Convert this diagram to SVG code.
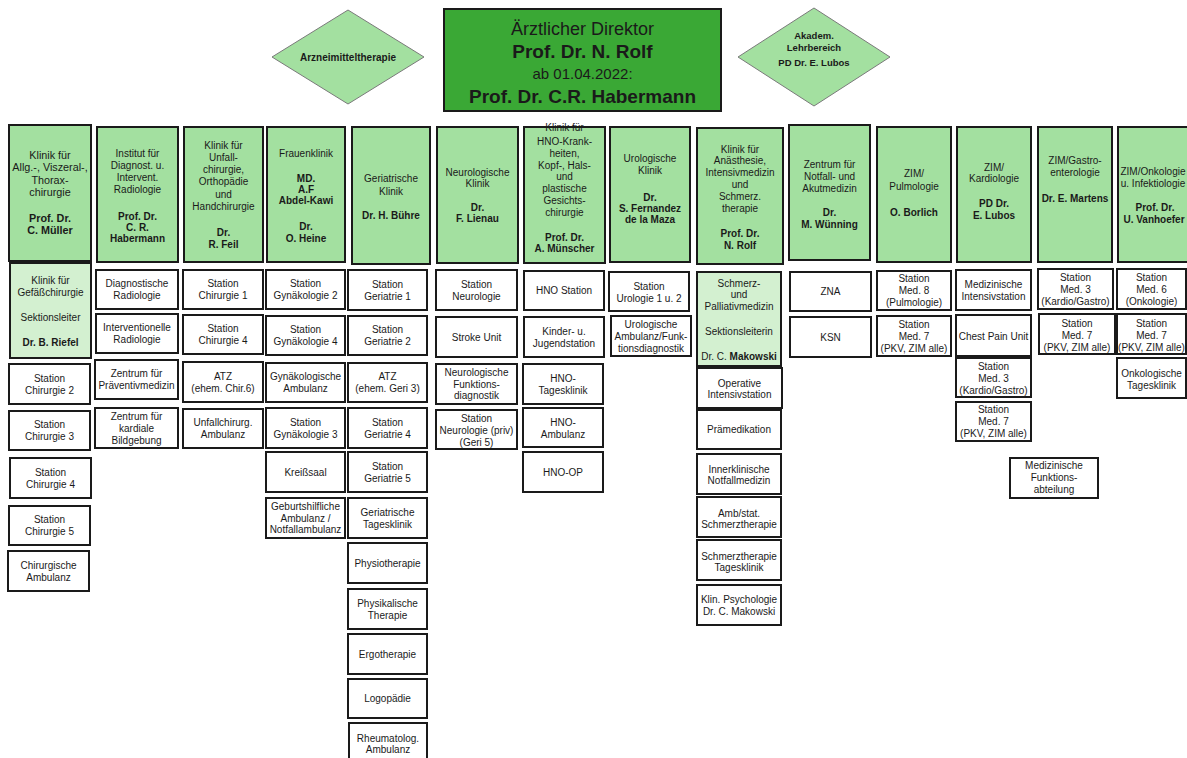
<svg xmlns="http://www.w3.org/2000/svg" width="1187" height="758" viewBox="0 0 1187 758">
<style>
text{font-family:"Liberation Sans",Arial,sans-serif;font-size:10px;fill:#1a1a1a;text-anchor:middle}
.bd{font-weight:bold}
.lg{font-size:10.8px}
.h{fill:#a3e0a0;stroke:#1a1a1a;stroke-width:2}
.s{fill:#d3f0d0;stroke:#1a1a1a;stroke-width:2}
.b{fill:#fff;stroke:#1a1a1a;stroke-width:2}
.d{fill:#a3e0a0;stroke:#7a7a7a;stroke-width:1}
.dir{fill:#3aa835;stroke:#1a1a1a;stroke-width:2}
</style>
<rect width="1187" height="758" fill="#fff"/>
<g id="connectors"/>
<g id="direktor"><rect class="dir" x="444" y="9" width="277" height="102"/>
<text x="582.5" y="35" style="font-size:18px">Ärztlicher Direktor</text>
<text x="582.5" y="58" class="bd" style="font-size:19px">Prof. Dr. N. Rolf</text>
<text x="582.5" y="79" style="font-size:15px">ab 01.04.2022:</text>
<text x="582.5" y="103" class="bd" style="font-size:19px">Prof. Dr. C.R. Habermann</text></g>
<g id="arznei"><polygon class="d" points="272,57 348,10 424,57 348,104"/><text x="348" y="60.5" class="bd">Arzneimitteltherapie</text></g>
<g id="akadem"><polygon class="d" points="738,57 814,8 890,57 814,106"/>
<text x="814" y="39" class="bd" style="font-size:9.5px">Akadem.</text><text x="814" y="50.5" class="bd" style="font-size:9.5px">Lehrbereich</text><text x="814" y="66" class="bd" style="font-size:9.5px">PD Dr. E. Lubos</text></g>

<g id="h1"><rect class="h" x="9" y="125" width="82" height="136"/>
<text x="50" y="158.5" class="lg">Klinik für</text><text x="50" y="171" class="lg">Allg.-, Viszeral-,</text><text x="50" y="183.5" class="lg">Thorax-</text><text x="50" y="196" class="lg">chirurgie</text><text x="50" y="222" class="bd lg">Prof. Dr.</text><text x="50" y="234" class="bd lg">C. Müller</text></g>
<g id="h2"><rect class="h" x="97" y="127" width="81" height="135"/>
<text x="137.5" y="156.5">Institut für</text><text x="137.5" y="168.5">Diagnost. u.</text><text x="137.5" y="180.5">Intervent.</text><text x="137.5" y="192.5">Radiologie</text><text x="137.5" y="219.5" class="bd">Prof. Dr.</text><text x="137.5" y="230.5" class="bd">C. R.</text><text x="137.5" y="241.5" class="bd">Habermann</text></g>
<g id="h3"><rect class="h" x="184" y="127" width="79" height="135"/>
<text x="223.5" y="148.5">Klinik für</text><text x="223.5" y="160.5">Unfall-</text><text x="223.5" y="172.5">chirurgie,</text><text x="223.5" y="185">Orthopädie</text><text x="223.5" y="197.5">und</text><text x="223.5" y="210">Handchirurgie</text><text x="223.5" y="235.5" class="bd">Dr.</text><text x="223.5" y="247.5" class="bd">R. Feil</text></g>
<g id="h4"><rect class="h" x="267" y="127" width="78" height="135"/>
<text x="306" y="156.5">Frauenklinik</text><text x="306" y="181.5" class="bd">MD.</text><text x="306" y="192.5" class="bd">A.F</text><text x="306" y="203.5" class="bd">Abdel-Kawi</text><text x="306" y="230" class="bd">Dr.</text><text x="306" y="241.5" class="bd">O. Heine</text></g>
<g id="h5"><rect class="h" x="352" y="127" width="78" height="137"/>
<text x="391" y="181.5">Geriatrische</text><text x="391" y="194.5">Klinik</text><text x="391" y="218.5" class="bd">Dr. H. Bühre</text></g>
<g id="h6"><rect class="h" x="437" y="127" width="81" height="136"/>
<text x="477.5" y="175.5">Neurologische</text><text x="477.5" y="186.5">Klinik</text><text x="477.5" y="210.5" class="bd">Dr.</text><text x="477.5" y="221.5" class="bd">F. Lienau</text></g>
<g id="h7"><rect class="h" x="524" y="127" width="81" height="136"/>
<text x="564.5" y="131">Klinik für</text><text x="564.5" y="144.5">HNO-Krank-</text><text x="564.5" y="156.5">heiten,</text><text x="564.5" y="168.5">Kopf-, Hals-</text><text x="564.5" y="180">und</text><text x="564.5" y="191.5">plastische</text><text x="564.5" y="203.5">Gesichts-</text><text x="564.5" y="215.5">chirurgie</text><text x="564.5" y="240.5" class="bd">Prof. Dr.</text><text x="564.5" y="252" class="bd">A. Münscher</text></g>
<g id="h8"><rect class="h" x="610" y="127" width="80" height="135"/>
<text x="650" y="161.5">Urologische</text><text x="650" y="173.5">Klinik</text><text x="650" y="200.5" class="bd">Dr.</text><text x="650" y="211.5" class="bd">S. Fernandez</text><text x="650" y="222.5" class="bd">de la Maza</text></g>
<g id="h9"><rect class="h" x="697" y="128" width="86" height="136"/>
<text x="740" y="153">Klinik für</text><text x="740" y="163.5">Anästhesie,</text><text x="740" y="175.5">Intensivmedizin</text><text x="740" y="188">und</text><text x="740" y="200">Schmerz.</text><text x="740" y="211.5">therapie</text><text x="740" y="236.5" class="bd">Prof. Dr.</text><text x="740" y="248.5" class="bd">N. Rolf</text></g>
<g id="h10"><rect class="h" x="789" y="125" width="81" height="135"/>
<text x="829.5" y="168">Zentrum für</text><text x="829.5" y="180">Notfall- und</text><text x="829.5" y="191.5">Akutmedizin</text><text x="829.5" y="215.5" class="bd">Dr.</text><text x="829.5" y="228" class="bd">M. Wünning</text></g>
<g id="h11"><rect class="h" x="877" y="127" width="74" height="135"/>
<text x="914" y="177">ZIM/</text><text x="914" y="189.5">Pulmologie</text><text x="914" y="215.5" class="bd">O. Borlich</text></g>
<g id="h12"><rect class="h" x="957" y="127" width="74" height="135"/>
<text x="994" y="170.5">ZIM/</text><text x="994" y="181.5">Kardiologie</text><text x="994" y="206.5" class="bd">PD Dr.</text><text x="994" y="218.5" class="bd">E. Lubos</text></g>
<g id="h13"><rect class="h" x="1038" y="127" width="74" height="135"/>
<text x="1075" y="163.5">ZIM/Gastro-</text><text x="1075" y="175.5">enterologie</text><text x="1075" y="201.5" class="bd">Dr. E. Martens</text></g>
<g id="h14"><rect class="h" x="1118" y="127" width="74" height="135"/>
<text x="1153" y="174.5">ZIM/Onkologie</text><text x="1153" y="186.5">u. Infektiologie</text><text x="1155" y="210.5" class="bd">Prof. Dr.</text><text x="1154" y="222.5" class="bd">U. Vanhoefer</text></g>

<g id="gefaess"><rect class="s" x="10" y="263" width="81" height="95"/>
<text x="50.5" y="283.5">Klinik für</text><text x="50.5" y="295.5">Gefäßchirurgie</text><text x="50.5" y="320.5">Sektionsleiter</text><text x="50.5" y="345.5" class="bd">Dr. B. Riefel</text></g>
<g id="chir2"><rect class="b" x="9" y="364" width="81" height="40"/><text x="49.5" y="382">Station</text><text x="49.5" y="394">Chirurgie 2</text></g>
<g id="chir3"><rect class="b" x="9" y="411" width="81" height="39"/><text x="49.5" y="428">Station</text><text x="49.5" y="440">Chirurgie 3</text></g>
<g id="chir4"><rect class="b" x="10" y="458" width="81" height="40"/><text x="50.5" y="476">Station</text><text x="50.5" y="488">Chirurgie 4</text></g>
<g id="chir5"><rect class="b" x="9" y="506" width="81" height="39"/><text x="49.5" y="523">Station</text><text x="49.5" y="535">Chirurgie 5</text></g>
<g id="chiramb"><rect class="b" x="8" y="551" width="81" height="40"/><text x="48.5" y="569">Chirurgische</text><text x="48.5" y="581">Ambulanz</text></g>

<g id="diagrad"><rect class="b" x="96" y="270" width="82" height="39"/><text x="137" y="287">Diagnostische</text><text x="137" y="299">Radiologie</text></g>
<g id="intrad"><rect class="b" x="96" y="314" width="82" height="39"/><text x="137" y="331">Interventionelle</text><text x="137" y="343">Radiologie</text></g>
<g id="praev"><rect class="b" x="95" y="360" width="83" height="39"/><text x="136.5" y="377">Zentrum für</text><text x="136.5" y="389">Präventivmedizin</text></g>
<g id="kardbild"><rect class="b" x="95" y="408" width="83" height="40"/><text x="136.5" y="419.5">Zentrum für</text><text x="136.5" y="431.5">kardiale</text><text x="136.5" y="443.5">Bildgebung</text></g>

<g id="chir1"><rect class="b" x="183" y="270" width="80" height="39"/><text x="223" y="287">Station</text><text x="223" y="299">Chirurgie 1</text></g>
<g id="chir4u"><rect class="b" x="183" y="315" width="80" height="39"/><text x="223" y="332">Station</text><text x="223" y="344">Chirurgie 4</text></g>
<g id="atzchir"><rect class="b" x="183" y="362" width="80" height="40"/><text x="223" y="380">ATZ</text><text x="223" y="392">(ehem. Chir.6)</text></g>
<g id="unfamb"><rect class="b" x="183" y="409" width="80" height="39"/><text x="223" y="426">Unfallchirurg.</text><text x="223" y="438">Ambulanz</text></g>

<g id="gyn2"><rect class="b" x="266" y="270" width="79" height="39"/><text x="305.5" y="287">Station</text><text x="305.5" y="299">Gynäkologie 2</text></g>
<g id="gyn4"><rect class="b" x="266" y="316" width="79" height="39"/><text x="305.5" y="333">Station</text><text x="305.5" y="345">Gynäkologie 4</text></g>
<g id="gynamb"><rect class="b" x="266" y="363" width="79" height="39"/><text x="305.5" y="380">Gynäkologische</text><text x="305.5" y="392">Ambulanz</text></g>
<g id="gyn3"><rect class="b" x="266" y="408" width="79" height="40"/><text x="305.5" y="426">Station</text><text x="305.5" y="438">Gynäkologie 3</text></g>
<g id="kreiss"><rect class="b" x="266" y="452" width="79" height="40"/><text x="305.5" y="475.5">Kreißsaal</text></g>
<g id="geburt"><rect class="b" x="266" y="498" width="79" height="40"/><text x="305.5" y="510">Geburtshilfliche</text><text x="305.5" y="521.5">Ambulanz /</text><text x="305.5" y="533">Notfallambulanz</text></g>

<g id="ger1"><rect class="b" x="348" y="270" width="79" height="40"/><text x="387.5" y="288">Station</text><text x="387.5" y="300">Geriatrie 1</text></g>
<g id="ger2"><rect class="b" x="348" y="316" width="79" height="39"/><text x="387.5" y="333">Station</text><text x="387.5" y="345">Geriatrie 2</text></g>
<g id="atzgeri"><rect class="b" x="348" y="363" width="79" height="39"/><text x="387.5" y="380">ATZ</text><text x="387.5" y="392">(ehem. Geri 3)</text></g>
<g id="ger4"><rect class="b" x="348" y="408" width="79" height="40"/><text x="387.5" y="426">Station</text><text x="387.5" y="438">Geriatrie 4</text></g>
<g id="ger5"><rect class="b" x="348" y="452" width="79" height="40"/><text x="387.5" y="470">Station</text><text x="387.5" y="482">Geriatrie 5</text></g>
<g id="gertag"><rect class="b" x="348" y="498" width="79" height="40"/><text x="387.5" y="516">Geriatrische</text><text x="387.5" y="528">Tagesklinik</text></g>
<g id="physio"><rect class="b" x="348" y="543" width="79" height="40"/><text x="387.5" y="566.5">Physiotherapie</text></g>
<g id="physik"><rect class="b" x="348" y="589" width="79" height="40"/><text x="387.5" y="607">Physikalische</text><text x="387.5" y="619">Therapie</text></g>
<g id="ergo"><rect class="b" x="348" y="634" width="79" height="40"/><text x="387.5" y="657.5">Ergotherapie</text></g>
<g id="logo"><rect class="b" x="348" y="679" width="79" height="39"/><text x="387.5" y="702">Logopädie</text></g>
<g id="rheuma"><rect class="b" x="349" y="723" width="78" height="42"/><text x="388" y="741.5">Rheumatolog.</text><text x="388" y="753">Ambulanz</text></g>

<g id="neurost"><rect class="b" x="436" y="270" width="81" height="40"/><text x="476.5" y="288">Station</text><text x="476.5" y="300">Neurologie</text></g>
<g id="stroke"><rect class="b" x="436" y="317" width="81" height="40"/><text x="476.5" y="340.5">Stroke Unit</text></g>
<g id="neurofunk"><rect class="b" x="436" y="364" width="81" height="40"/><text x="476.5" y="376">Neurologische</text><text x="476.5" y="387.5">Funktions-</text><text x="476.5" y="399">diagnostik</text></g>
<g id="neuropriv"><rect class="b" x="436" y="410" width="81" height="39"/><text x="476.5" y="421.5">Station</text><text x="476.5" y="433.5">Neurologie (priv)</text><text x="476.5" y="445.5">(Geri 5)</text></g>

<g id="hnost"><rect class="b" x="524" y="271" width="80" height="39"/><text x="564" y="294">HNO Station</text></g>
<g id="kinder"><rect class="b" x="524" y="317" width="80" height="40"/><text x="564" y="334.5">Kinder- u.</text><text x="564" y="346.5">Jugendstation</text></g>
<g id="hnotag"><rect class="b" x="523" y="364" width="80" height="40"/><text x="563" y="382">HNO-</text><text x="563" y="394">Tagesklinik</text></g>
<g id="hnoamb"><rect class="b" x="523" y="408" width="80" height="39"/><text x="563" y="425.5">HNO-</text><text x="563" y="437.5">Ambulanz</text></g>
<g id="hnoop"><rect class="b" x="523" y="452" width="80" height="40"/><text x="563" y="475.5">HNO-OP</text></g>

<g id="urost"><rect class="b" x="609" y="272" width="80" height="39"/><text x="649" y="289.5">Station</text><text x="649" y="301.5">Urologie 1 u. 2</text></g>
<g id="uroamb"><rect class="b" x="611" y="316" width="80" height="40"/><text x="651" y="327.5">Urologische</text><text x="651" y="339.5">Ambulanz/Funk-</text><text x="651" y="351.5">tionsdiagnostik</text></g>

<g id="schmerz"><rect class="s" x="697" y="272" width="84" height="94"/>
<text x="739" y="286.5">Schmerz-</text><text x="739" y="297.5">und</text><text x="739" y="309.5">Palliativmedizin</text><text x="739" y="334.5">Sektionsleiterin</text><text x="739" y="359.5">Dr. C. <tspan class="bd">Makowski</tspan></text></g>
<g id="opint"><rect class="b" x="697" y="368" width="85" height="40"/><text x="739.5" y="386.5">Operative</text><text x="739.5" y="398">Intensivstation</text></g>
<g id="praemed"><rect class="b" x="697" y="410" width="84" height="39"/><text x="739" y="433">Prämedikation</text></g>
<g id="innerkl"><rect class="b" x="697" y="454" width="84" height="40"/><text x="739" y="472.5">Innerklinische</text><text x="739" y="484">Notfallmedizin</text></g>
<g id="ambstat"><rect class="b" x="697" y="497" width="84" height="40"/><text x="739" y="516.5">Amb/stat.</text><text x="739" y="528">Schmerztherapie</text></g>
<g id="schmtag"><rect class="b" x="697" y="540" width="84" height="40"/><text x="739" y="559.5">Schmerztherapie</text><text x="739" y="571">Tagesklinik</text></g>
<g id="klinpsy"><rect class="b" x="697" y="585" width="84" height="40"/><text x="739" y="602.5">Klin. Psychologie</text><text x="739" y="614.5">Dr. C. Makowski</text></g>

<g id="zna"><rect class="b" x="790" y="272" width="81" height="39"/><text x="830.5" y="295">ZNA</text></g>
<g id="ksn"><rect class="b" x="790" y="317" width="81" height="40"/><text x="830.5" y="340.5">KSN</text></g>

<g id="med8"><rect class="b" x="877" y="271" width="74" height="39"/><text x="914" y="281.5">Station</text><text x="914" y="293.5">Med. 8</text><text x="914" y="305.5">(Pulmologie)</text></g>
<g id="med7p"><rect class="b" x="877" y="316" width="74" height="40"/><text x="914" y="327.5">Station</text><text x="914" y="339.5">Med. 7</text><text x="914" y="351.5">(PKV, ZIM alle)</text></g>

<g id="medint"><rect class="b" x="956" y="270" width="75" height="40"/><text x="993.5" y="287.5">Medizinische</text><text x="993.5" y="299.5">Intensivstation</text></g>
<g id="chest"><rect class="b" x="956" y="315" width="75" height="41"/><text x="993.5" y="339.5">Chest Pain Unit</text></g>
<g id="med3k"><rect class="b" x="956" y="358" width="75" height="39"/><text x="993.5" y="369.5">Station</text><text x="993.5" y="381.5">Med. 3</text><text x="993.5" y="393.5">(Kardio/Gastro)</text></g>
<g id="med7k"><rect class="b" x="956" y="402" width="75" height="39"/><text x="993.5" y="412.5">Station</text><text x="993.5" y="424.5">Med. 7</text><text x="993.5" y="436.5">(PKV, ZIM alle)</text></g>

<g id="med3g"><rect class="b" x="1038" y="269" width="75" height="40"/><text x="1075.5" y="280.5">Station</text><text x="1075.5" y="292.5">Med. 3</text><text x="1075.5" y="305">(Kardio/Gastro)</text></g>
<g id="med7g"><rect class="b" x="1039" y="314" width="76" height="40"/><text x="1077" y="326.5">Station</text><text x="1077" y="338.5">Med. 7</text><text x="1077" y="350.5">(PKV, ZIM alle)</text></g>

<g id="med6"><rect class="b" x="1117" y="269" width="69" height="40"/><text x="1151.5" y="280.5">Station</text><text x="1151.5" y="292.5">Med. 6</text><text x="1151.5" y="305">(Onkologie)</text></g>
<g id="med7o"><rect class="b" x="1117" y="314" width="69" height="40"/><text x="1151.5" y="326.5">Station</text><text x="1151.5" y="338.5">Med. 7</text><text x="1151.5" y="350.5">(PKV, ZIM alle)</text></g>
<g id="onkotag"><rect class="b" x="1117" y="358" width="69" height="40"/><text x="1151.5" y="376.5">Onkologische</text><text x="1151.5" y="388.5">Tagesklinik</text></g>

<g id="medfunk"><rect class="b" x="1010" y="458" width="88" height="40"/><text x="1054" y="468.5">Medizinische</text><text x="1054" y="480.5">Funktions-</text><text x="1054" y="493">abteilung</text></g>
</svg>
